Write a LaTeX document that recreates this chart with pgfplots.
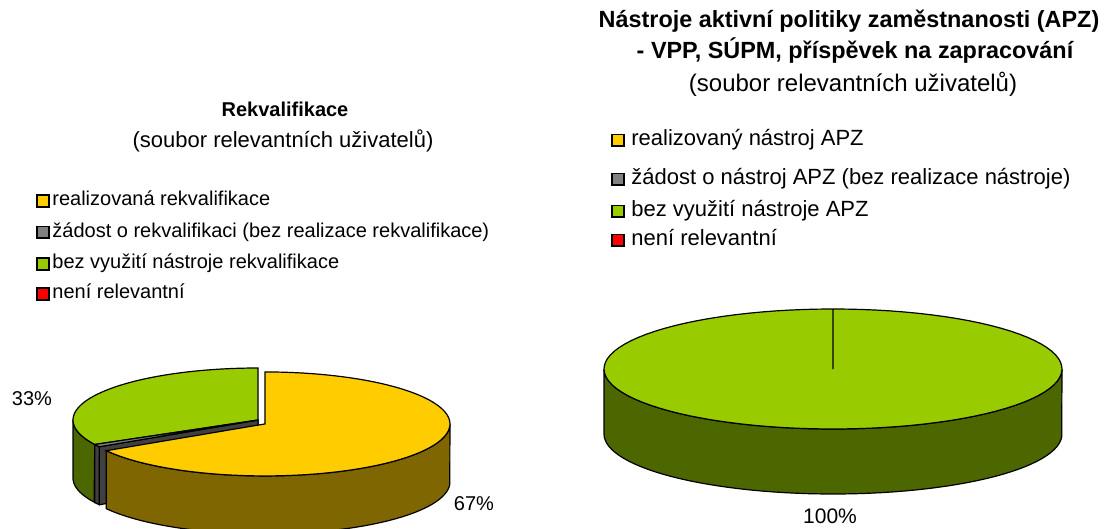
\documentclass[border=0pt]{standalone}
\usepackage{fontspec}
\setmainfont{Liberation Sans}
\usepackage{pgfplots}
\pgfplotsset{compat=1.18}
\definecolor{yel}{HTML}{FFCC00}
\definecolor{yelD}{HTML}{806600}
\definecolor{grn}{HTML}{99CC00}
\definecolor{grnD}{HTML}{4C6600}
\definecolor{gry}{HTML}{808080}
\definecolor{gryD}{HTML}{404040}
\definecolor{red}{HTML}{FF0000}
% wall: cx cy rx ry depth t1 t2 colour
\newcommand{\wall}[8]{\addplot[fill=#8,draw=black,line width=0.6pt,domain=0:2,samples=121]
 ({#1+#3*cos(#6+(#7-#6)*min(x,2-x))},{#2-#4*sin(#6+(#7-#6)*min(x,2-x))+#5*(x>1)}) -- cycle;}
% sector top: cx cy rx ry t1 t2 colour
\newcommand{\sector}[7]{\addplot[fill=#7,draw=black,line width=0.6pt,domain=#5:#6,samples=100]
 ({#1+#3*cos(x)},{#2-#4*sin(x)}) -- (axis cs:#1,#2) -- cycle;}
\begin{document}
\begin{tikzpicture}
% ---- data (percent) ----
% Rekvalifikace: realizovana, zadost, bez vyuziti, neni relevantni
\def\pYel{66.4}\def\pGry{0.8}\def\pGrn{32.8}\def\pRed{0}
% APZ: bez vyuziti 100
\def\qGrn{100}
% ---- geometry ----
\pgfmathsetmacro\tA{90+3.6*\pGrn}
\pgfmathsetmacro\tB{\tA+3.6*\pGry}
\pgfmathsetmacro\tM{(\tB+450)/2}
\pgfmathsetmacro\yx{258+8*cos(\tM)}
\pgfmathsetmacro\yy{420-8*sin(\tM)}
\pgfmathsetmacro\ax{258+185*cos(\tA)}
\pgfmathsetmacro\ay{420-52*sin(\tA)}
\pgfmathsetmacro\ayb{\ay+58}
\pgfmathsetmacro\bx{258+185*cos(\tB)}
\pgfmathsetmacro\by{420-52*sin(\tB)}
\pgfmathsetmacro\byb{\by+58}
\pgfmathsetmacro\qE{90+3.6*\qGrn}
\begin{axis}[width=554pt,height=264.5pt,scale only axis,hide axis,
  xmin=0,xmax=1108,ymin=0,ymax=529,y dir=reverse,clip=true]
% ---- left pie ----
\wall{258}{420}{185}{52}{58}{180}{\tA}{grnD}
\addplot[fill=grnD,draw=black,line width=0.6pt] coordinates {(258,420) (\ax,\ay) (\ax,\ayb) (258,478)} -- cycle;
\wall{258}{420}{185}{52}{58}{\tA}{\tB}{gryD}
\addplot[fill=gryD,draw=black,line width=0.6pt] coordinates {(258,420) (\bx,\by) (\bx,\byb) (258,478)} -- cycle;
\sector{258}{420}{185}{52}{90}{\tA}{grn}
\sector{258}{420}{185}{52}{\tA}{\tB}{gry}
\wall{\yx}{\yy}{185}{52}{58}{\tB}{360}{yelD}
\sector{\yx}{\yy}{185}{52}{\tB}{450}{yel}
% ---- right pie ----
\wall{833}{369}{229}{60}{65}{180}{360}{grnD}
\sector{833}{369}{229}{60}{90}{\qE}{grn}
% ---- legend squares ----
\pgfplotsset{lsq/.style={only marks,mark=square*,mark size=2.9pt,mark options={fill=#1,draw=black,line width=0.8pt}}}
\addplot[lsq=yel] coordinates {(43,201)};
\addplot[lsq=gry] coordinates {(43,232.5)};
\addplot[lsq=grn] coordinates {(43,264)};
\addplot[lsq=red] coordinates {(43,294)};
\addplot[lsq=yel] coordinates {(618,140.5)};
\addplot[lsq=gry] coordinates {(618,179.5)};
\addplot[lsq=grn] coordinates {(618,211.5)};
\addplot[lsq=red] coordinates {(618,240.5)};
% ---- texts left ----
\node[anchor=base,font=\bfseries\fontsize{10}{12}\selectfont] at (axis cs:285,117) {Rekvalifikace};
\node[anchor=base,font=\fontsize{11}{13}\selectfont] at (axis cs:283,148) {(soubor relevantních uživatelů)};
\begin{scope}[every node/.style={anchor=base west,inner sep=0pt,font=\fontsize{10}{12}\selectfont}]
\node at (axis cs:52,206) {realizovaná rekvalifikace};
\node at (axis cs:52,237.5) {žádost o rekvalifikaci (bez realizace rekvalifikace)};
\node at (axis cs:52,269) {bez využití nástroje rekvalifikace};
\node at (axis cs:52,299) {není relevantní};
\end{scope}
\node[anchor=base,font=\fontsize{10}{12}\selectfont] at (axis cs:32,405) {33\%};
\node[anchor=base,font=\fontsize{10}{12}\selectfont] at (axis cs:474,510) {67\%};
% ---- texts right ----
\node[anchor=base,font=\bfseries\fontsize{11.7}{14}\selectfont] at (axis cs:849,28) {Nástroje aktivní politiky zaměstnanosti (APZ)};
\node[anchor=base,font=\bfseries\fontsize{11.7}{14}\selectfont] at (axis cs:855,59) {- VPP, SÚPM, příspěvek na zapracování};
\node[anchor=base,font=\fontsize{12}{14}\selectfont] at (axis cs:853,92) {(soubor relevantních uživatelů)};
\begin{scope}[every node/.style={anchor=base west,inner sep=0pt,font=\fontsize{11}{13}\selectfont}]
\node at (axis cs:631,146) {realizovaný nástroj APZ};
\node at (axis cs:631,185) {žádost o nástroj APZ (bez realizace nástroje)};
\node at (axis cs:631,217) {bez využití nástroje APZ};
\node at (axis cs:631,246) {není relevantní};
\end{scope}
\node[anchor=base,font=\fontsize{10.5}{12}\selectfont] at (axis cs:830,523) {100\%};
\end{axis}
\pgfresetboundingbox
\path[use as bounding box] (0,0) rectangle (554pt,264.5pt);
\end{tikzpicture}
\end{document}
